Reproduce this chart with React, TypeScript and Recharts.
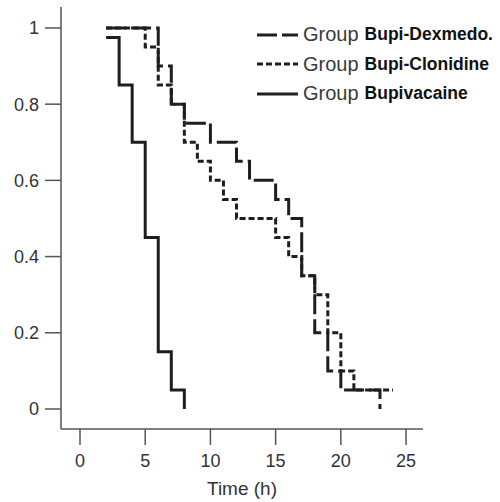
import { Line, LineChart, XAxis, YAxis } from "recharts";

// Kaplan-Meier style step curves: time (h) and proportion still without event
const dexTimes = [2, 6, 7, 8, 10, 12, 13, 15, 16, 17, 18, 19, 20, 23];
const dexSurv = [1, 0.9, 0.8, 0.75, 0.7, 0.65, 0.6, 0.55, 0.5, 0.35, 0.2, 0.1, 0.05, 0];

const cloTimes = [2, 5, 6, 7, 8, 9, 10, 11, 12, 15, 16, 17, 18, 19, 20, 21, 24];
const cloSurv = [1, 0.95, 0.85, 0.8, 0.7, 0.65, 0.6, 0.55, 0.5, 0.45, 0.4, 0.35, 0.3, 0.2, 0.1, 0.05, 0.05];

const bupiTimes = [2, 3, 4, 5, 6, 7, 8];
const bupiSurv = [0.975, 0.85, 0.7, 0.45, 0.15, 0.05, 0];

const xTicks = [0, 5, 10, 15, 20, 25];
const yTicks = [0, 0.2, 0.4, 0.6, 0.8, 1];

const groups = [
  { name: "Bupi-Dexmedo.", dash: "20 5" },
  { name: "Bupi-Clonidine", dash: "6 3" },
  { name: "Bupivacaine", dash: undefined },
];

const toPoints = (times: number[], surv: number[]) =>
  times.map((t, i) => ({ t, s: surv[i] }));

const FONT = '"Liberation Sans", Arial, Helvetica, sans-serif';
const INK = "#1e1e1e";
const AXIS = "#555";

function GroupLegend() {
  return (
    <div
      style={{
        position: "absolute",
        left: 257,
        top: 20,
        fontFamily: FONT,
        lineHeight: "29.5px",
        whiteSpace: "nowrap",
      }}
    >
      {groups.map((g) => (
        <div key={g.name} style={{ display: "flex", alignItems: "center", height: 29.5 }}>
          <svg width={42} height={6} style={{ marginRight: 4 }}>
            <line x1={0} y1={3} x2={41} y2={3} stroke={INK} strokeWidth={3} strokeDasharray={g.dash} />
          </svg>
          <span style={{ fontSize: 20, color: "#3a3a3a" }}>Group</span>
          <span style={{ fontSize: 17.5, fontWeight: "bold", color: "#111", marginLeft: 6 }}>{g.name}</span>
        </div>
      ))}
    </div>
  );
}

export default function App() {
  return (
    <div style={{ position: "absolute", left: 0, top: 0, width: 500, height: 502, background: "#fff" }}>
      <LineChart width={500} height={502} margin={{ top: 7, right: 77, bottom: 0, left: 0 }}>
        <XAxis
          type="number"
          dataKey="t"
          domain={[-1.457, 26.3]}
          allowDataOverflow
          ticks={xTicks}
          height={73}
          tickSize={16}
          tickMargin={9}
          axisLine={{ stroke: AXIS, strokeWidth: 1.5 }}
          tickLine={{ stroke: AXIS, strokeWidth: 1.5 }}
          tick={{ fill: "#333", fontSize: 18, fontFamily: FONT }}
          label={{
            value: "Time (h)",
            position: "insideBottom",
            offset: 7,
            fill: "#333",
            fontSize: 19,
            fontFamily: FONT,
          }}
        />
        <YAxis
          type="number"
          dataKey="s"
          domain={[-0.0525, 1.055]}
          allowDataOverflow
          ticks={yTicks}
          tickFormatter={(v: number) => String(v)}
          width={61}
          tickSize={16}
          tickMargin={6}
          axisLine={{ stroke: AXIS, strokeWidth: 1.5 }}
          tickLine={{ stroke: AXIS, strokeWidth: 1.5 }}
          tick={{ fill: "#333", fontSize: 18, fontFamily: FONT }}
        />
        <Line
          data={toPoints(dexTimes, dexSurv)}
          dataKey="s"
          type="stepAfter"
          stroke={INK}
          strokeWidth={3}
          strokeDasharray="20 5"
          dot={false}
          isAnimationActive={false}
        />
        <Line
          data={toPoints(cloTimes, cloSurv)}
          dataKey="s"
          type="stepAfter"
          stroke={INK}
          strokeWidth={3}
          strokeDasharray="6 3"
          dot={false}
          isAnimationActive={false}
        />
        <Line
          data={toPoints(bupiTimes, bupiSurv)}
          dataKey="s"
          type="stepAfter"
          stroke={INK}
          strokeWidth={3}
          dot={false}
          isAnimationActive={false}
        />
      </LineChart>
      <GroupLegend />
    </div>
  );
}
